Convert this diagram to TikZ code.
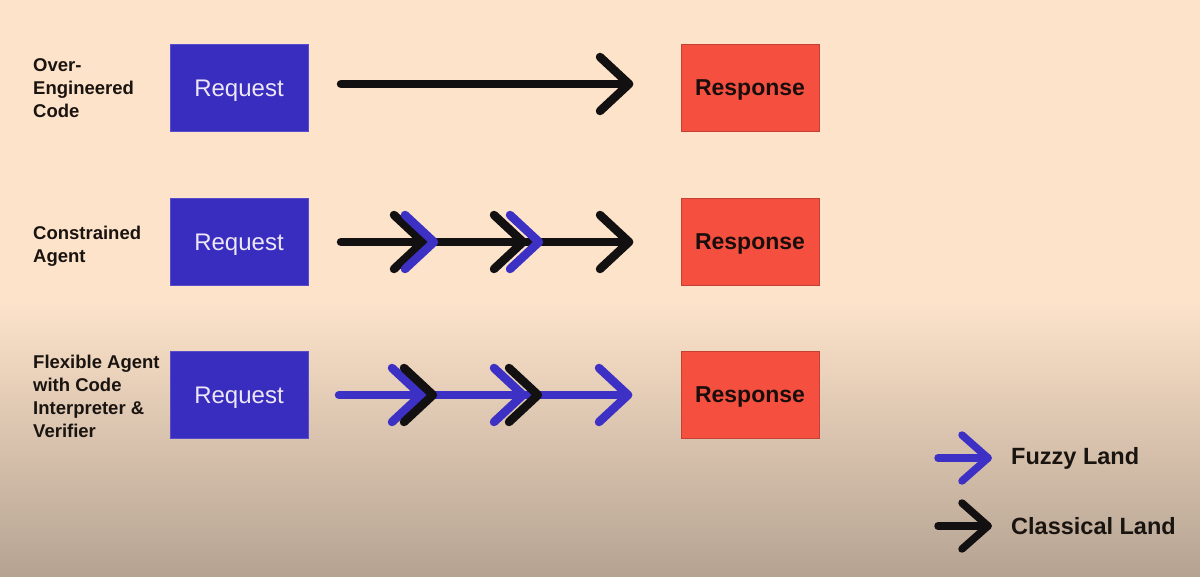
\documentclass[tikz,border=0pt]{standalone}
\usepackage{fontspec}
\setmainfont{Liberation Sans}
\definecolor{bgtop}{HTML}{FDE3CA}
\definecolor{bgbot}{HTML}{B5A392}
\definecolor{reqblue}{HTML}{392DBF}
\definecolor{reqtext}{HTML}{ECE6F5}
\definecolor{respred}{HTML}{F5503F}
\definecolor{resptext}{HTML}{1A0E0C}
\definecolor{labeltext}{HTML}{1A1410}
\definecolor{fuzzy}{HTML}{3D30C5}
\definecolor{classic}{HTML}{121010}
\begin{document}
\begin{tikzpicture}[x=1pt,y=-1pt,
  reqbox/.style={fill=reqblue, draw=reqblue!85!white, line width=0.8pt, minimum width=138pt, minimum height=87pt, inner sep=0pt, text height=17.2pt, text depth=0pt, text=reqtext, font=\fontsize{24}{28}\selectfont},
  respbox/.style={fill=respred, draw=respred!80!black, line width=0.8pt, minimum width=138pt, minimum height=87pt, inner sep=0pt, text height=16.5pt, text depth=0pt, text=resptext, font=\bfseries\fontsize{23}{28}\selectfont},
  rowlabel/.style={anchor=west, align=left, inner sep=0pt, text=labeltext, font=\bfseries\fontsize{18.5}{23}\selectfont},
  legtext/.style={anchor=west, inner sep=0pt, text=labeltext, font=\bfseries\fontsize{23.5}{28}\selectfont},
  flow/.style={line width=8.5pt, line cap=round},
  pics/chev/.style={code={\draw[line width=8.5pt, line cap=round, line join=round, draw=#1] (-29,-27) -- (0,0) -- (-29,27);}},
  pics/legchev/.style={code={\draw[line width=7.5pt, line cap=round, line join=round, draw=#1] (-26,-23) -- (0,0) -- (-26,23);}}
]
\useasboundingbox (0,0) rectangle (1200,577);
\fill[bgtop] (0,0) rectangle (1200,577);
\shade[top color=bgtop, bottom color=bgbot] (0,300) rectangle (1200,577);

% row labels
\node[rowlabel] (lab1) at (33,88) {Over-\\Engineered\\Code};
\node[rowlabel] (lab2) at (33,246) {Constrained\\Agent};
\node[rowlabel] (lab3) at (33,396) {Flexible Agent\\with Code\\Interpreter \&\\Verifier};

% boxes
\node[reqbox] (req1) at (239,87.5) {Request};
\node[reqbox] (req2) at (239,241.5) {Request};
\node[reqbox] (req3) at (239,394.5) {Request};
\node[respbox] (resp1) at (750,87.5) {Response};
\node[respbox] (resp2) at (750,241.5) {Response};
\node[respbox] (resp3) at (750,394.5) {Response};

% row 1
\coordinate (s1) at (341,84);
\coordinate (e1) at (629,84);
\draw[flow, draw=classic] (s1) -- (e1);
\pic at (e1) {chev=classic};

% row 2
\coordinate (s2) at (341,242);
\coordinate (e2) at (629,242);
\draw[flow, draw=classic] (s2) -- (e2);
\pic at (423,242) {chev=classic};
\pic at (523,242) {chev=classic};
\pic at (e2) {chev=classic};
\pic at (434,242) {chev=fuzzy};
\pic at (539,242) {chev=fuzzy};

% row 3
\coordinate (s3) at (339,395);
\coordinate (e3) at (628,395);
\draw[flow, draw=fuzzy] (s3) -- (e3);
\pic at (421,395) {chev=fuzzy};
\pic at (523,395) {chev=fuzzy};
\pic at (e3) {chev=fuzzy};
\pic at (433,395) {chev=classic};
\pic at (538,395) {chev=classic};

% legend
\coordinate (ls1) at (938,458);
\coordinate (le1) at (988,458);
\draw[line width=7.5pt, line cap=round, draw=fuzzy] (ls1) -- (le1);
\pic at (le1) {legchev=fuzzy};
\node[legtext] (fuzzytxt) at (1011,458) {Fuzzy Land};

\coordinate (ls2) at (938,526);
\coordinate (le2) at (988,526);
\draw[line width=7.5pt, line cap=round, draw=classic] (ls2) -- (le2);
\pic at (le2) {legchev=classic};
\node[legtext] (classtxt) at (1011,526) {Classical Land};
\end{tikzpicture}
\end{document}
